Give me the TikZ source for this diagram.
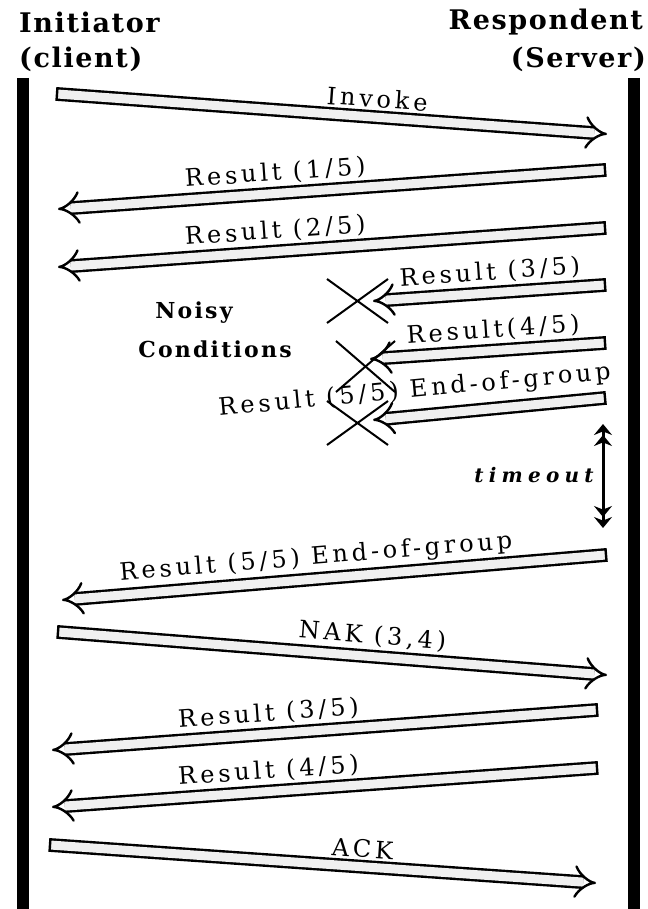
\documentclass[tikz,border=0pt]{standalone}
\usepackage{fontspec}
\setmainfont{DejaVu Serif}
\newfontfamily\hdrfont[LetterSpace=6]{DejaVu Serif}
\newfontfamily\nsyfont[LetterSpace=10]{DejaVu Serif}
\newfontfamily\lblfont[LetterSpace=16]{DejaVu Serif}
\newfontfamily\tofont[LetterSpace=26]{DejaVu Serif}
\usetikzlibrary{arrows.meta}
\begin{document}
\begin{tikzpicture}[x=1pt,y=-1pt,
  lifeline/.style={line width=12pt},
  msg/.style={double=gray!12, double distance=9pt, line width=2.4pt, -{Implies}},
  capbar/.style={sloped, draw, line width=2.4pt, inner sep=0pt, minimum width=0pt, minimum height=13.8pt},
  lbl/.style={sloped, above=7pt, font=\lblfont\fontsize{24}{24}\selectfont, inner sep=1pt},
  hdr/.style={font=\hdrfont\bfseries\fontsize{27}{27}\selectfont, inner sep=0pt},
  noisy/.style={font=\nsyfont\bfseries\fontsize{22}{22}\selectfont, inner sep=0pt},
  cross/.style={line width=2pt},
  tmo/.style={line width=3pt, {Stealth[length=11pt,width=18pt]Stealth[length=11pt,width=18pt]}-{Stealth[length=11pt,width=18pt]Stealth[length=11pt,width=18pt]}}]
\useasboundingbox (0,0) rectangle (647,909);
\fill[white] (0,0) rectangle (647,909);
% headers
\node[hdr, anchor=west] (ini) at (19,22) {Initiator};
\node[hdr, anchor=west] (cli) at (19,59) {(client)};
\node[hdr, anchor=east] (res) at (643,22) {Respondent};
\node[hdr, anchor=east] (srv) at (646,59) {(Server)};
% lifelines
\coordinate (Ltop) at (23,78); \coordinate (Lbot) at (23,909);
\coordinate (Rtop) at (634,78); \coordinate (Rbot) at (634,909);
\draw[lifeline] (Ltop) -- (Lbot);
\draw[lifeline] (Rtop) -- (Rbot);
% message end points
\coordinate (a1) at (57,94);   \coordinate (b1) at (607,134);
\coordinate (a2) at (605,170); \coordinate (b2) at (58,209);
\coordinate (a3) at (605,228); \coordinate (b3) at (58,267);
\coordinate (a4) at (605,285); \coordinate (b4) at (373,301);
\coordinate (a5) at (605,343); \coordinate (b5) at (370,359);
\coordinate (a6) at (605,398); \coordinate (b6) at (373,420);
\coordinate (a8) at (606,555); \coordinate (b8) at (62,600);
\coordinate (a9) at (58,632);  \coordinate (b9) at (607,675);
\coordinate (a10) at (597,710); \coordinate (b10) at (52,750);
\coordinate (a11) at (597,768); \coordinate (b11) at (52,807);
\coordinate (a12) at (50,845); \coordinate (b12) at (596,883);
% messages
\draw[msg] (a1) -- node[lbl, pos=0.58] {Invoke} (b1);
\draw[msg] (a2) -- node[lbl, pos=0.60] {Result (1/5)} (b2);
\draw[msg] (a3) -- node[lbl, pos=0.60] {Result (2/5)} (b3);
\draw[msg] (a4) -- node[lbl, pos=0.49] {Result (3/5)} (b4);
\draw[msg] (a5) -- node[lbl, pos=0.47] {Result(4/5)} (b5);
\draw[msg] (a6) -- node[lbl, pos=0.81, above=4pt] {Result (5/5) End-of-group} (b6);
\draw[msg] (a8) -- node[lbl, pos=0.53] {Result (5/5) End-of-group} (b8);
\draw[msg] (a9) -- node[lbl, pos=0.57] {NAK (3,4)} (b9);
\draw[msg] (a10) -- node[lbl, pos=0.60] {Result (3/5)} (b10);
\draw[msg] (a11) -- node[lbl, pos=0.60] {Result (4/5)} (b11);
\draw[msg] (a12) -- node[lbl, pos=0.57] {ACK} (b12);
% closed tails
\path (a1) -- node[capbar, pos=0] (c1) {} (b1);
\path (a2) -- node[capbar, pos=0] (c2) {} (b2);
\path (a3) -- node[capbar, pos=0] (c3) {} (b3);
\path (a4) -- node[capbar, pos=0] (c4) {} (b4);
\path (a5) -- node[capbar, pos=0] (c5) {} (b5);
\path (a6) -- node[capbar, pos=0] (c6) {} (b6);
\path (a8) -- node[capbar, pos=0] (c8) {} (b8);
\path (a9) -- node[capbar, pos=0] (c9) {} (b9);
\path (a10) -- node[capbar, pos=0] (c10) {} (b10);
\path (a11) -- node[capbar, pos=0] (c11) {} (b11);
\path (a12) -- node[capbar, pos=0] (c12) {} (b12);
% lost-message crosses
\coordinate (x1a) at (327,279); \coordinate (x1b) at (388,323);
\coordinate (x1c) at (327,323); \coordinate (x1d) at (388,279);
\draw[cross] (x1a) -- (x1b); \draw[cross] (x1c) -- (x1d);
\coordinate (x2a) at (336,341); \coordinate (x2b) at (395,392);
\coordinate (x2c) at (336,392); \coordinate (x2d) at (395,341);
\draw[cross] (x2a) -- (x2b); \draw[cross] (x2c) -- (x2d);
\coordinate (x3a) at (327,401); \coordinate (x3b) at (388,445);
\coordinate (x3c) at (327,445); \coordinate (x3d) at (388,401);
\draw[cross] (x3a) -- (x3b); \draw[cross] (x3c) -- (x3d);
% noisy conditions
\node[noisy] (noisyt) at (194,313) {Noisy};
\node[noisy] (cond) at (215,349) {Conditions};
% timeout
\coordinate (t1) at (603,424); \coordinate (t2) at (603,528);
\draw[tmo] (t1) -- (t2);
\node[font=\tofont\bfseries\itshape\fontsize{20}{20}\selectfont, inner sep=0pt] (tmo) at (534,475) {timeout};
\end{tikzpicture}
\end{document}
